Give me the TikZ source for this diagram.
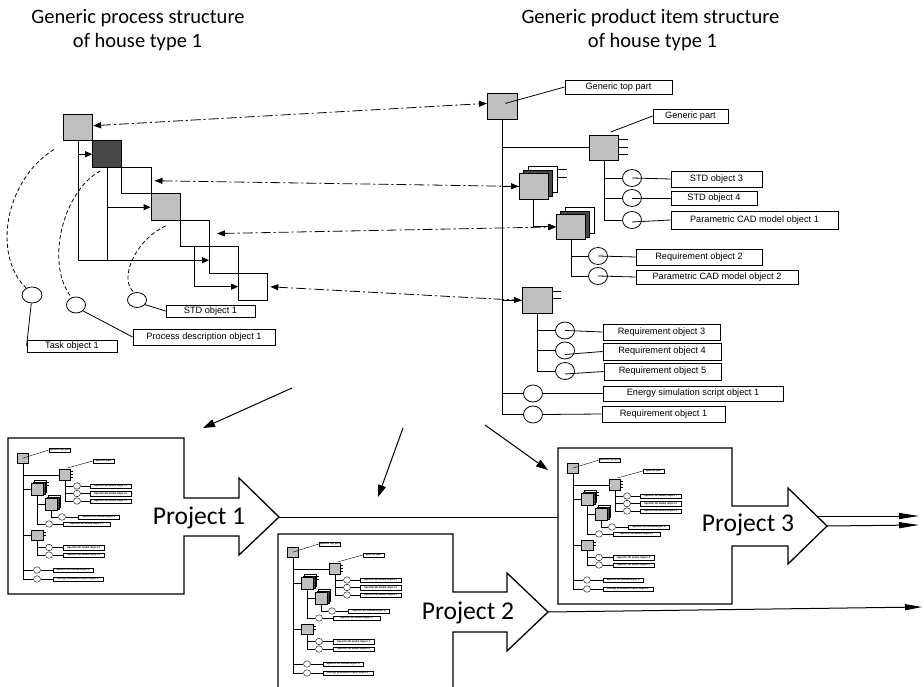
\documentclass[tikz,border=0pt]{standalone}
\usepackage{fontspec}
\setmainfont{Carlito}
\newfontfamily\labfont{Liberation Sans}
\usetikzlibrary{arrows.meta,shapes.geometric,calc}
\definecolor{lgray}{RGB}{191,191,191}
\definecolor{dgray}{RGB}{72,72,72}
\newcommand\tinylab{\labfont\bfseries\fontsize{2.6}{3}\selectfont}
\tikzset{
 psq/.style={draw, inner sep=0pt, minimum width=29.2pt, minimum height=26.5pt, line width=0.9pt, anchor=north west},
 tsq/.style={draw, fill=lgray, inner sep=0pt, minimum width=29pt, minimum height=26pt, line width=0.8pt, anchor=north west},
 blab/.style={draw, inner sep=0pt, font=\labfont\fontsize{9.2}{10}\selectfont, line width=0.8pt},
 bcirc/.style={draw, ellipse, inner sep=0pt, minimum width=19pt, minimum height=17pt, line width=0.8pt},
 ddarr/.style={line width=0.8pt, dash pattern=on 10pt off 3pt on 2pt off 3pt, {Triangle[length=8pt,width=6pt]}-{Triangle[length=8pt,width=6pt]}},
 dcurve/.style={line width=0.8pt, dash pattern=on 4pt off 2.5pt},
 ln/.style={line width=0.8pt},
 parr/.style={line width=0.9pt, -{Triangle[length=7pt,width=6pt]}},
 barr/.style={line width=1pt, -{Triangle[length=12pt,width=8pt]}},
 pout/.style={line width=1.3pt},
 pfont/.style={font=\fontsize{25.6}{30}\selectfont, anchor=base, inner sep=0pt},
 tfont/.style={font=\fontsize{20.5}{24}\selectfont, anchor=base, inner sep=0pt},
 msq/.style={draw, fill=lgray, inner sep=0pt, minimum width=11pt, minimum height=10pt, line width=0.4pt, anchor=north west},
 mlab/.style={draw, inner sep=0pt, font=\tinylab, minimum height=4.5pt, line width=0.5pt},
 mcirc/.style={draw, ellipse, inner sep=0pt, minimum width=7pt, minimum height=6.5pt, line width=0.4pt},
 mln/.style={line width=0.4pt},
}
\newcommand\minitree[3]{%
\begin{scope}[shift={(#2,#3)}]
 \node[msq] (#1t) at (0,0) {};
 \node[mlab, minimum width=21pt] (#1tl) at (42.5,-3) {Specific top part};
 \draw[mln] (#1t.center) -- (#1tl.west);
 \node[msq, minimum height=11pt] (#1g) at (42,16) {};
 \node[mlab, minimum width=21pt] (#1gl) at (86.5,8) {Specific part};
 \draw[mln] ([xshift=-3pt,yshift=1pt]#1g.north east) -- (#1gl.west);
 \foreach \yy in {18.5,21.5,24.5} \draw[mln] (#1g.east |- 0,\yy) -- ++(3,0);
 \node[mcirc] (#1a) at (60,33) {};
 \node[mcirc] (#1b) at (60,40.5) {};
 \node[mcirc] (#1c) at (60,48) {};
 \draw[mln] (#1g.south) |- (#1c.west);
 \draw[mln] (#1g.south |- #1a.west) -- (#1a.west);
 \draw[mln] (#1g.south |- #1b.west) -- (#1b.west);
 \node[mlab, minimum width=41pt] (#1al) at (93.5,33) {Specific 3D model object 1};
 \node[mlab, minimum width=41pt] (#1bl) at (93.5,40.5) {Specific 3D model object 2};
 \node[mlab, minimum width=41pt] (#1cl) at (93.5,48) {Specific 2D model object 1};
 \draw[mln] (#1a.east) -- (#1al.west);
 \draw[mln] (#1b.east) -- (#1bl.west);
 \draw[mln] (#1c.east) -- (#1cl.west);
 % stacked 1
 \node[msq, fill=white, minimum width=12pt, minimum height=12pt] (#1s1c) at (17,27.4) {};
 \node[msq, fill=dgray, minimum width=12pt, minimum height=12pt] (#1s1b) at (15.5,28.7) {};
 \node[msq, minimum width=12pt, minimum height=12pt] (#1s1) at (14,30) {};
 \foreach \yy in {29,32} \draw[mln] (#1s1c.east |- 0,\yy) -- ++(3,0);
 % stacked 2
 \node[msq, fill=white, minimum width=12pt, minimum height=12pt] (#1s2c) at (31,42.4) {};
 \node[msq, fill=dgray, minimum width=12pt, minimum height=12pt] (#1s2b) at (29.5,43.7) {};
 \node[msq, minimum width=12pt, minimum height=12pt] (#1s2) at (28,45) {};
 \node[mcirc] (#1d1) at (45,64) {};
 \node[mcirc] (#1d2) at (32,71) {};
 \draw[mln] (#1s1.south) |- (#1d2.west);
 \draw[mln] (#1s1.south |- #1s2.west) -- (#1s2.west);
 \draw[mln] (#1s2.south) |- (#1d1.west);
 \node[mlab, minimum width=41pt] (#1d1l) at (82,64) {Specific 2D model object 2};
 \node[mlab, minimum width=47pt] (#1d2l) at (69.5,71) {Specific 3D model object 3};
 \draw[mln] (#1d1.east) -- (#1d1l.west);
 \draw[mln] (#1d2.east) -- (#1d2l.west);
 % box 3
 \node[msq, minimum width=12pt] (#1b3) at (14,77) {};
 \foreach \yy in {79,82} \draw[mln] (#1b3.east |- 0,\yy) -- ++(3,0);
 \node[mcirc] (#1e1) at (32,94.5) {};
 \node[mcirc] (#1e2) at (32,102) {};
 \draw[mln] (#1b3.south) |- (#1e2.west);
 \draw[mln] (#1b3.south |- #1e1.west) -- (#1e1.west);
 \node[mlab, minimum width=41pt] (#1e1l) at (66.5,94.5) {Specific 3D model object 4};
 \node[mlab, minimum width=41pt] (#1e2l) at (66.5,102) {Specific 3D model object 5};
 \draw[mln] (#1e1.east) -- (#1e1l.west);
 \draw[mln] (#1e2.east) -- (#1e2l.west);
 % trunk
 \node[mcirc] (#1k1) at (20,117) {};
 \node[mcirc] (#1k2) at (20,126) {};
 \node[mlab, minimum width=40pt] (#1k1l) at (56,117) {Specific 2D model object 4};
 \node[mlab, minimum width=50pt] (#1k2l) at (61,126) {Energy simulation report object 1};
 \draw[mln] (#1k1.east) -- (#1k1l.west);
 \draw[mln] (#1k2.east) -- (#1k2l.west);
 \draw[mln] (#1t.south) |- (#1k2.west);
 \draw[mln] (#1t.south |- #1g.west) -- (#1g.west);
 \draw[mln] (#1t.south |- #1s1.west) -- (#1s1.west);
 \draw[mln] (#1t.south |- #1b3.west) -- (#1b3.west);
 \draw[mln] (#1t.south |- #1k1.west) -- (#1k1.west);
\end{scope}}

\begin{document}
\begin{tikzpicture}[x=1pt,y=-1pt]
\useasboundingbox (0,0) rectangle (924,687);

% titles
\node[tfont] (t1a) at (138,24) {Generic process structure};
\node[tfont] (t1b) at (137.5,48) {of house type 1};
\node[tfont] (t2a) at (650.5,24) {Generic product item structure};
\node[tfont] (t2b) at (652.5,48) {of house type 1};

% process structure
\node[psq, fill=lgray] (A) at (63,114) {};
\node[psq, fill=dgray] (B) at (92.2,140.5) {};
\node[psq] (C) at (121.4,167) {};
\node[psq, fill=lgray] (D) at (150.6,193.5) {};
\node[psq] (E) at (179.8,220) {};
\node[psq] (F) at (209,246.5) {};
\node[psq] (G) at (238.2,273) {};
\draw[parr] (A.south) |- (F.west);
\draw[parr] (A.south |- B.west) -- (B.west);
\draw[ln] (B.south) -- (B.south |- F.west);
\draw[parr] (B.south |- D.west) -- (D.west);
\draw[parr] (E.south) |- (G.west);

% left objects
\node[bcirc, minimum width=20pt, minimum height=16pt] (k1) at (32,295) {};
\node[bcirc, minimum height=16pt] (k2) at (76,305) {};
\node[bcirc, minimum height=15pt] (k3) at (137,300) {};
\node[blab, minimum width=90pt, minimum height=12pt] (task) at (72,346) {Task object 1};
\node[blab, minimum width=142pt, minimum height=16pt] (proc) at (204,337) {Process description object 1};
\node[blab, minimum width=89pt, minimum height=12pt] (std1) at (210.5,311) {STD object 1};
\draw[dcurve] ([xshift=-9pt,yshift=-8pt]A.south west) .. controls (5,180) and (-8,255) .. (k1.130);
\draw[dcurve] ([xshift=-7pt,yshift=-3pt]B.south) .. controls (62,192) and (45,265) .. (k2.120);
\draw[dcurve] ([yshift=-5pt]D.south) .. controls (135,240) and (118,280) .. (k3.110);
\draw[ln] (k1.265) -- (task.west);
\draw[ln] (k2.-40) -- (proc.west);
\draw[ln] (k3.-30) -- (std1.west);

% product structure
\node[tsq, minimum width=30pt] (top) at (487,93) {};
\node[blab, minimum width=107pt, minimum height=14pt] (toplab) at (618.5,87) {Generic top part};
\draw[ln] ([xshift=3pt,yshift=3pt]top.center) -- (toplab.west);

\node[tsq, minimum height=25pt] (gp) at (589,135) {};
\foreach \yy in {139,147,154} \draw[ln] (gp.east |- 0,\yy) -- ++(9,0);
\node[blab, minimum width=75pt, minimum height=14pt] (gplab) at (690.5,116) {Generic part};
\draw[ln] ([xshift=-8pt,yshift=3pt]gp.north east) -- (gplab.west);
\node[bcirc] (c3) at (632,178) {};
\node[bcirc] (c4) at (632,198) {};
\node[bcirc] (c5) at (632,220) {};
\draw[ln] (gp.south) |- (c5.west);
\draw[ln] (gp.south |- c3.west) -- (c3.west);
\draw[ln] (gp.south |- c4.west) -- (c4.west);
\node[blab, minimum width=91pt, minimum height=16pt] (l3) at (716.5,179) {STD object 3};
\node[blab, minimum width=86pt, minimum height=14pt] (l4) at (714,198) {STD object 4};
\node[blab, minimum width=167pt, minimum height=18pt] (l5) at (754.5,220) {Parametric CAD model object 1};
\draw[ln] (c3.center) -- (l3.west);
\draw[ln] (c4.center) -- (l4.west);
\draw[ln] ([yshift=-2pt]c5.center) -- (l5.west);

% stacked 1
\node[tsq, fill=white] (s1c) at (528,166.5) {};
\node[tsq, fill=dgray] (s1b) at (523.3,169.7) {};
\node[tsq] (s1) at (519,173) {};
\foreach \yy in {169,177} \draw[ln] (s1c.east |- 0,\yy) -- ++(9,0);
% stacked 2
\node[tsq, fill=white] (s2c) at (565,207.5) {};
\node[tsq, fill=dgray] (s2b) at (560.3,210.7) {};
\node[tsq, minimum height=25pt] (s2) at (556,214) {};
\draw[parr] (s1.south) |- (s2.west);
\node[bcirc] (c6) at (598,256) {};
\node[bcirc] (c7) at (598,276) {};
\draw[ln] (s2.south) |- (c7.west);
\draw[ln] (s2.south |- c6.west) -- (c6.west);
\node[blab, minimum width=126pt, minimum height=16pt] (l6) at (699,257) {Requirement object 2};
\node[blab, minimum width=162pt, minimum height=14pt] (l7) at (717,277) {Parametric CAD model object 2};
\draw[ln] (c6.center) -- (l6.west);
\draw[ln] (c7.center) -- (l7.west);

% box 3
\node[tsq, minimum width=30pt] (b3) at (522,287) {};
\foreach \yy in {291,298} \draw[ln] (b3.east |- 0,\yy) -- ++(8,0);
\node[bcirc] (c8) at (565,330.5) {};
\node[bcirc] (c9) at (565,350.5) {};
\node[bcirc] (c10) at (565,371) {};
\draw[ln] (b3.south) |- (c10.west);
\draw[ln] (b3.south |- c8.west) -- (c8.west);
\draw[ln] (b3.south |- c9.west) -- (c9.west);
\node[blab, minimum width=117pt, minimum height=16pt] (l8) at (661.5,332) {Requirement object 3};
\node[blab, minimum width=118pt, minimum height=17pt] (l9) at (662,351.5) {Requirement object 4};
\node[blab, minimum width=117pt, minimum height=17pt] (l10) at (662.5,371.5) {Requirement object 5};
\draw[ln] (c8.center) -- (l8.west);
\draw[ln] ([yshift=-4pt]c9.center) -- (l9.west);
\draw[ln] ([yshift=-3pt]c10.center) -- (l10.west);

% trunk children
\node[bcirc] (esc) at (533,393.5) {};
\node[bcirc] (r1c) at (533,414.5) {};
\node[blab, minimum width=180pt, minimum height=15pt] (lesc) at (693,393.5) {Energy simulation script object 1};
\node[blab, minimum width=123pt, minimum height=16pt] (lr1) at (663.5,414) {Requirement object 1};
\draw[ln] (esc.east) -- (lesc.west);
\draw[ln] (r1c.east) -- (lr1.west);
\draw[ln] (top.south) |- (r1c.west);
\draw[ln] (top.south |- gp.west) -- (gp.west);
\draw[ln] (top.south |- s1.west) -- (s1.west);
\draw[ln] (top.south |- b3.west) -- (b3.west);
\draw[ln] (top.south |- esc.west) -- (esc.west);

% dash-dot links
\draw[ddarr] ([yshift=2pt]A.east) -- ([yshift=3pt]top.west);
\draw[ddarr, shorten <=3pt] (C.east) -- (s1.west);
\draw[ddarr, shorten <=7pt] (E.east) -- (s2.west);
\draw[ddarr, shorten <=2pt] (G.east) -- (b3.west);

% big arrows
\coordinate (g1) at (292,388); \coordinate (g1e) at (203,428);
\coordinate (g2) at (403,428); \coordinate (g2e) at (378,497);
\coordinate (g3) at (485,425); \coordinate (g3e) at (548,470);
\draw[barr] (g1) -- (g1e);
\draw[barr] (g2) -- (g2e);
\draw[barr] (g3) -- (g3e);

% projects
\draw[pout] (8,438) -- (184,438) -- (184,498) -- (239,498) -- (239,478) -- (279,517) -- (239,555) -- (239,536) -- (184,536) -- (184,594) -- (8,594) -- cycle;
\draw[pout] (278,690) -- (278,534) -- (453,534) -- (453,592) -- (507,592) -- (507,573) -- (548,612) -- (507,651) -- (507,632) -- (453,632) -- (453,690);
\draw[pout] (558,448) -- (732,448) -- (732,506) -- (788,506) -- (788,488) -- (827,526) -- (788,564) -- (788,546) -- (732,546) -- (732,604) -- (558,604) -- cycle;
\node[pfont] (p1t) at (199,524) {Project 1};
\node[pfont] (p2t) at (468,619) {Project 2};
\node[pfont] (p3t) at (748,531) {Project 3};

\coordinate (p1tip) at (279,517); \coordinate (p3l) at (558,517);
\coordinate (p2tip) at (548,612); \coordinate (p2end) at (922,607);
\coordinate (p3a) at (817,516); \coordinate (p3ae) at (919,516);
\coordinate (p3tip) at (827,526); \coordinate (p3be) at (919,525);
\draw[ln, line width=1pt] (p1tip) -- (p3l);
\draw[ln, line width=1pt, -{Triangle[length=17pt,width=6pt]}] (p2tip) -- (p2end);
\draw[ln, line width=1pt, -{Triangle[length=20pt,width=6pt]}] (p3a) -- (p3ae);
\draw[ln, line width=1pt, -{Triangle[length=20pt,width=6pt]}] (p3tip) -- (p3be);

\minitree{ma}{17}{453}
\minitree{mb}{287}{547}
\minitree{mc}{567}{463}
\end{tikzpicture}
\end{document}
